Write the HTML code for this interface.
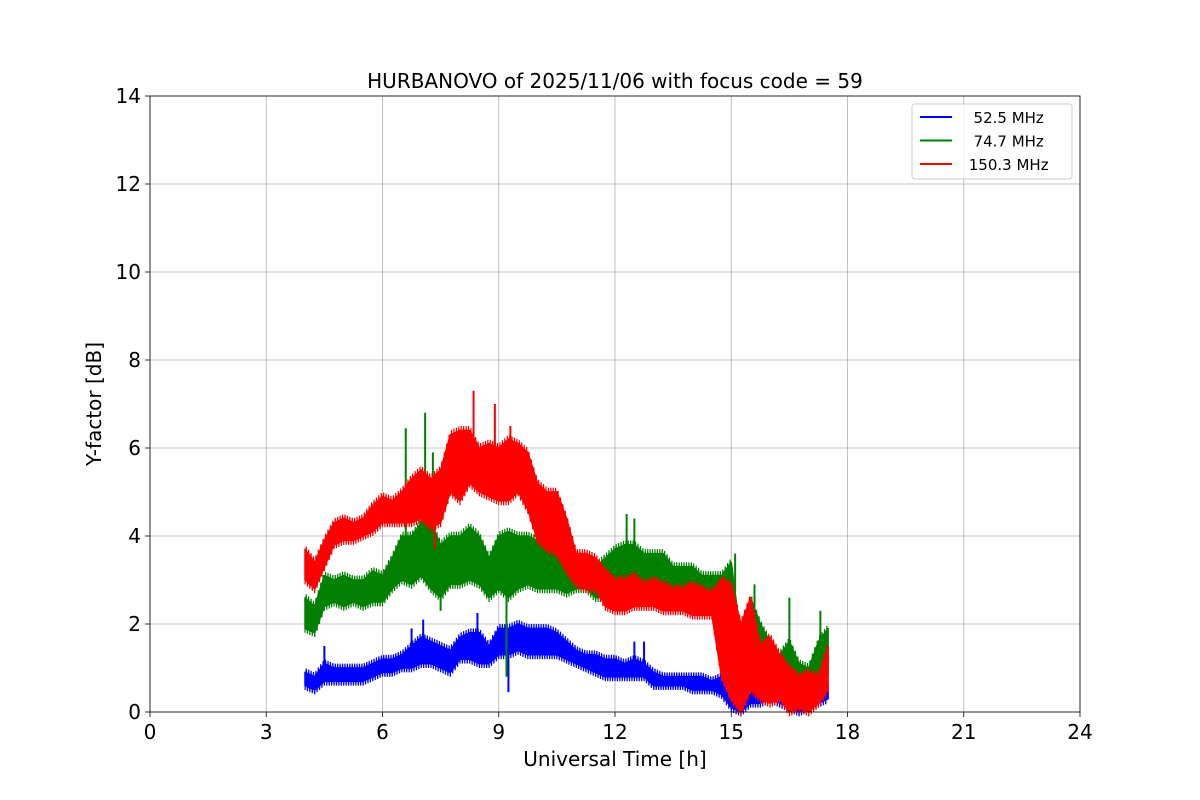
<!DOCTYPE html>
<html><head><meta charset="utf-8">
<style>
html,body{margin:0;padding:0;background:#fff;}
svg{display:block;font-family:"DejaVu Sans","Liberation Sans",sans-serif;}
</style></head>
<body>
<svg id="chart" width="1200" height="800" viewBox="0 0 1200 800"></svg>
<script>
const times = [4.0,4.25,4.5,4.75,5.0,5.25,5.5,5.75,6.0,6.25,6.5,6.75,7.0,7.25,7.5,7.75,8.0,8.25,8.5,8.75,9.0,9.25,9.5,9.75,10.0,10.25,10.5,10.75,11.0,11.25,11.5,11.75,12.0,12.25,12.5,12.75,13.0,13.25,13.5,13.75,14.0,14.25,14.5,14.75,15.0,15.25,15.5,15.75,16.0,16.25,16.5,16.75,17.0,17.25,17.5];
const blueLow  = [0.6,0.5,0.7,0.7,0.7,0.7,0.7,0.8,0.9,0.9,1.0,1.0,1.1,1.1,1.0,0.9,1.2,1.2,1.1,1.1,1.3,1.3,1.4,1.3,1.3,1.3,1.3,1.2,1.1,1.0,0.9,0.8,0.8,0.8,0.8,0.8,0.6,0.6,0.6,0.6,0.5,0.5,0.5,0.4,0.1,0.0,0.2,0.2,0.3,0.2,0.1,0.0,0.1,0.2,0.3];
const blueHigh = [0.9,0.8,1.1,1.0,1.0,1.0,1.0,1.1,1.2,1.2,1.3,1.5,1.7,1.6,1.5,1.4,1.7,1.8,1.8,1.5,1.9,1.9,2.0,1.9,1.9,1.9,1.8,1.6,1.4,1.3,1.3,1.2,1.2,1.1,1.2,1.1,0.9,0.8,0.8,0.8,0.8,0.8,0.7,0.8,0.9,0.6,0.7,0.6,0.6,0.6,0.5,0.5,0.5,0.7,0.6];
const blueSpikeT = [4.5,6.75,7.05,8.45,9.25,12.5,12.75];
const blueSpikeV = [1.5,1.9,2.1,2.25,0.45,1.6,1.6];
const greenLow  = [1.9,1.8,2.4,2.5,2.4,2.5,2.4,2.5,2.5,2.8,3.0,2.9,3.1,2.8,2.6,2.9,2.9,3.0,2.9,2.6,2.8,2.6,2.8,2.9,2.8,2.8,2.8,2.7,2.8,2.8,2.6,2.6,2.9,2.8,2.7,2.7,2.7,2.6,2.6,2.7,2.5,2.6,2.6,2.3,1.0,0.3,1.0,0.8,0.5,0.3,0.3,0.2,0.3,0.2,0.8];
const greenHigh = [2.6,2.4,3.1,3.0,3.1,3.0,3.0,3.2,3.1,3.5,4.0,4.0,4.3,4.3,3.8,4.0,4.0,4.2,4.0,3.5,4.0,4.1,4.0,4.0,3.9,3.7,3.5,3.7,3.5,3.4,3.3,3.5,3.7,3.8,3.8,3.6,3.6,3.6,3.3,3.3,3.3,3.1,3.1,3.1,3.4,1.7,2.6,2.0,1.6,1.3,1.6,1.1,1.0,1.6,1.9];
const greenSpikeT = [6.6,7.1,7.3,7.5,9.2,12.3,12.5,15.1,15.6,16.5,17.3];
const greenSpikeV = [6.45,6.8,5.9,2.3,0.8,4.5,4.4,3.6,2.9,2.6,2.3];
const redLow  = [3.0,2.8,3.3,3.8,3.9,3.9,4.0,4.1,4.3,4.3,4.3,4.3,4.4,4.2,4.3,5.0,4.8,5.2,5.0,4.9,4.8,4.8,5.0,4.6,3.9,3.7,3.6,3.2,2.9,2.8,2.8,2.4,2.3,2.3,2.4,2.4,2.4,2.3,2.3,2.3,2.2,2.2,2.2,0.8,0.3,0.0,0.5,0.3,0.2,0.3,0.0,0.1,0.0,0.2,0.5];
const redHigh = [3.7,3.4,3.9,4.3,4.4,4.3,4.4,4.7,4.9,4.8,5.0,5.3,5.5,5.3,5.5,6.3,6.4,6.4,6.0,6.1,6.0,6.2,6.1,5.9,5.2,5.0,5.0,4.4,3.6,3.6,3.5,3.2,3.0,3.0,3.1,2.9,3.0,2.9,2.8,2.8,2.9,2.8,2.7,3.0,2.9,2.0,2.6,1.5,1.7,1.3,1.0,0.8,0.9,0.8,1.5];
const redSpikeT = [7.35,8.35,8.9,9.3];
const redSpikeV = [3.7,7.3,7.0,6.5];
const xTicks = [0,3,6,9,12,15,18,21,24];
const yTicks = [0,2,4,6,8,10,12,14];

const NS="http://www.w3.org/2000/svg";
const svg=document.getElementById('chart');
const L=150,R=1080,T=96,B=712;
const xs=v=>L+(v/24)*(R-L);
const ys=v=>B-(v/14)*(B-T);
function mk(tag,attrs,parent){const e=document.createElementNS(NS,tag);for(const k in attrs)e.setAttribute(k,attrs[k]);(parent||svg).appendChild(e);return e;}
function interp(arr,t){
  if(t<=times[0])return arr[0];
  for(let i=0;i<times.length-1;i++){if(t<=times[i+1]){const f=(t-times[i])/(times[i+1]-times[i]);return arr[i]+(arr[i+1]-arr[i])*f;}}
  return arr[arr.length-1];
}

xTicks.forEach(t=>{
  const g=mk('line',{x1:xs(t),x2:xs(t),y1:T,y2:B,stroke:'#b0b0b0','stroke-width':0.8});
  
  
  mk('line',{x1:xs(t),x2:xs(t),y1:B,y2:B+5,stroke:'#000','stroke-width':0.8});
  const tx=mk('text',{x:xs(t),y:B+27,'text-anchor':'middle','font-size':20,fill:'#000'});
  tx.textContent=t;
  
  
});
yTicks.forEach(t=>{
  const g=mk('line',{x1:L,x2:R,y1:ys(t),y2:ys(t),stroke:'#b0b0b0','stroke-width':0.8});
  
  
  mk('line',{x1:L-5,x2:L,y1:ys(t),y2:ys(t),stroke:'#000','stroke-width':0.8});
  const tx=mk('text',{x:L-9,y:ys(t)+7,'text-anchor':'end','font-size':20,fill:'#000'});
  tx.textContent=t;
  
  
});

function drawSeries(lo,hi,spT,spV,color,name){
  const g=mk('g',{});
  
  
  let top=[],bot=[];
  for(let i=0;i<times.length;i++){top.push(xs(times[i])+','+ys(hi[i]));bot.unshift(xs(times[i])+','+ys(lo[i]));}
  mk('polygon',{points:top.concat(bot).join(' '),fill:color,stroke:color,'stroke-width':1.5,'stroke-linejoin':'round'},g);
  let pts=[];
  for(let i=0;i<times.length-1;i++){
    const t0=times[i],t1=times[i+1];
    for(let k=0;k<8;k++){
      const f=k/8,t=t0+(t1-t0)*f;
      const l=lo[i]+(lo[i+1]-lo[i])*f,h=hi[i]+(hi[i+1]-hi[i])*f;
      pts.push(xs(t)+','+ys(k%2?h+0.1:l-0.1));
    }
  }
  mk('polyline',{points:pts.join(' '),fill:'none',stroke:color,'stroke-width':1.2},g);
  spT.forEach((t,i)=>{
    const base=(spV[i]>interp(hi,t))?interp(hi,t):interp(lo,t);
    mk('line',{x1:xs(t),x2:xs(t),y1:ys(base),y2:ys(spV[i]),stroke:color,'stroke-width':2},g);
  });
}
drawSeries(blueLow,blueHigh,blueSpikeT,blueSpikeV,'#0000ff','series-52-5-mhz');
drawSeries(greenLow,greenHigh,greenSpikeT,greenSpikeV,'#008000','series-74-7-mhz');
drawSeries(redLow,redHigh,redSpikeT,redSpikeV,'#ff0000','series-150-3-mhz');

const fr=mk('rect',{x:L,y:T,width:R-L,height:B-T,fill:'none',stroke:'#000','stroke-width':0.8});



const title=mk('text',{x:615,y:88,'text-anchor':'middle','font-size':20,fill:'#000'});
title.textContent='HURBANOVO of 2025/11/06 with focus code = 59';


const xl=mk('text',{x:615,y:766,'text-anchor':'middle','font-size':20,fill:'#000'});
xl.textContent='Universal Time [h]';


const yl=mk('text',{x:101,y:404,'text-anchor':'middle','font-size':20,fill:'#000',transform:'rotate(-90 101 404)'});
yl.textContent='Y-factor [dB]';



const lg=mk('g',{});


mk('rect',{x:912,y:104,width:160,height:75,rx:3,fill:'#fff','fill-opacity':0.8,stroke:'#ccc','stroke-width':1},lg);
const names=['  52.5 MHz','  74.7 MHz',' 150.3 MHz'],cols=['#0000ff','#008000','#ff0000'];
names.forEach((n,i)=>{
  const y=117+i*23.5;
  const e=mk('g',{},lg);
  
  
  mk('line',{x1:920,x2:952,y1:y,y2:y,stroke:cols[i],'stroke-width':2},e);
  const t=mk('text',{x:964,y:y+6,'font-size':15,fill:'#000'},e);
  t.setAttribute('style','white-space:pre');
  t.textContent=n;
});
</script>
</body></html>
